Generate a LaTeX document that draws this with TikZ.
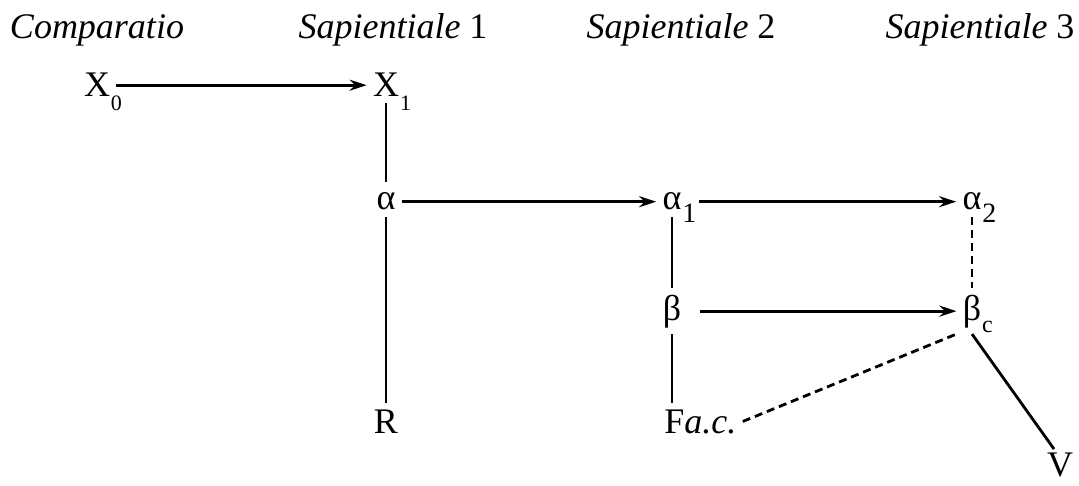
\documentclass[tikz,border=0pt]{standalone}
\usepackage{fontspec}
\setmainfont{Liberation Serif}
\usetikzlibrary{arrows.meta}
\newcommand{\lowidx}[3][22]{\rlap{\smash{\kern1pt\raisebox{-#2pt}{\fontsize{#1}{#1}\selectfont #3}}}}
\tikzset{
  witness/.style={inner sep=5pt, anchor=base, font=\fontsize{36}{43}\selectfont},
  contam/.style={dash pattern=on 8pt off 5pt}
}

\begin{document}
\begin{tikzpicture}[x=1pt,y=-1pt,>={Stealth[length=17pt,width=11pt]},line width=2.8pt,every node/.style={witness}]
  \useasboundingbox (0,0) rectangle (1079,486);

  \node (comp) at (97,39) {\textit{Comparatio}};
  \node (sap1) at (393,39) {\textit{Sapientiale} 1};
  \node (sap2) at (681,39) {\textit{Sapientiale} 2};
  \node (sap3) at (980,39) {\textit{Sapientiale} 3};

  \node (x0) at (97,97) {X\lowidx{14}{0}};
  \node (x1) at (386,97) {X\lowidx{14}{1}};
  \node (a) at (386,210) {α};
  \node (a1) at (672,210) {α\lowidx[28]{13}{1}};
  \node (a2) at (972,210) {α\lowidx[28]{13}{2}};
  \node (b) at (672,320) {β};
  \node (bc) at (972,320) {β\lowidx[24]{13}{c}};
  \node (r) at (386,433) {R};
  \node (fac) [anchor=base west] at (658,433) {F\textit{a.c.}};
  \node (v) [inner sep=2pt] at (1060,476) {V};

  \draw[->] (x0) -- (x1);
  \draw[shorten >=5pt] (x1) -- (a);
  \draw[->] (a) -- (a1);
  \draw[->, shorten <=11pt] (a1) -- (a2);
  \draw (a) -- (r);
  \draw (a1) -- (b);
  \draw[contam] (a2) -- (bc);
  \draw[->, shorten <=12pt] (b) -- (bc);
  \draw (b) -- (b |- fac.north);
  \draw[contam] (fac.east) -- (bc.south west);
  \draw (bc.south) -- ([xshift=-6pt]v.north);
\end{tikzpicture}
\end{document}
